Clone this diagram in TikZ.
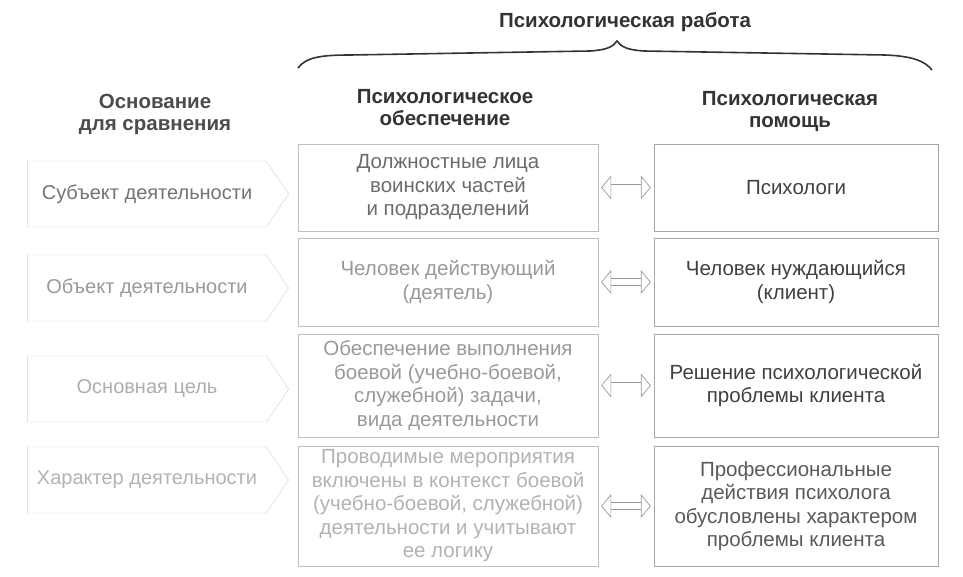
\documentclass[tikz,border=0pt]{standalone}
\usepackage{fontspec}
\setmainfont{Liberation Sans}
\usetikzlibrary{shapes.symbols}
\usetikzlibrary{arrows.meta}

\begin{document}
\begin{tikzpicture}[
    x=1pt,y=-1pt,
    base node/.style={text=black!45,font=\fontsize{20.5}{23.5}\selectfont,align=center,inner sep=0pt},
    head node/.style={text=black!80,font=\fontsize{20.5}{22}\selectfont\bfseries,align=center},
    crit node/.style={base node,font=\fontsize{20}{23}\selectfont,draw=black!18,signal,signal to=east,signal pointer angle=112,minimum width=261pt,minimum height=66pt},
    side node/.style={base node,draw=black!25,minimum width=300pt},
    help node/.style={base node,draw=black!35,text=black!75,minimum width=284pt},
    link/.style={draw=black!40,line width=0.7pt,double=white,double distance=6pt,
      {Triangle[open,length=10pt,width=24pt,line width=0.7pt]}-{Triangle[open,length=10pt,width=24pt,line width=0.7pt]},
      shorten >=3pt,shorten <=3pt},
    ]
  \useasboundingbox (0,0) rectangle (963,576);

  \node[head node] (top) at (625,22) {Психологическая работа};
  \node[head node,text=black!70] (hbase) at (155,114) {Основание\\для сравнения};
  \node[head node] (hside) at (445,108) {Психологическое\\обеспечение};
  \node[head node] (hhelp) at (790,111) {Психологическая\\помощь};

  \draw[line width=1.6pt,black!80] (298,68) .. controls (306,57) and (322,55) .. (350,55)
    -- (590,51) .. controls (606,50) and (613,47) .. (617,41)
    .. controls (621,47) and (628,50) .. (644,51)
    -- (885,55) .. controls (912,56) and (925,61) .. (932,70);

  \node[crit node,text=black!55] (c1) at (147,194) {Субъект деятельности};
  \node[crit node,text=black!40] (c2) at (147,288) {Объект деятельности};
  \node[crit node,text=black!32] (c3) at (147,389) {Основная цель};
  \node[crit node,text=black!30] (c4) at (147,480) {Характер деятельности};

  \node[side node,text=black!58,minimum height=87pt] (s1) at (448,187.5) {Должностные лица\\воинских частей\\и подразделений};
  \node[side node,text=black!40,minimum height=88pt] (s2) at (448,282) {Человек действующий\\(деятель)};
  \node[side node,text=black!40,minimum height=103pt] (s3) at (448,385.5) {Обеспечение выполнения\\боевой (учебно-боевой,\\служебной) задачи,\\вида деятельности};
  \node[side node,text=black!30,minimum height=120pt] (s4) at (448,506) {Проводимые мероприятия\\включены в контекст боевой\\(учебно-боевой, служебной)\\деятельности и учитывают\\ее логику};

  \node[help node,minimum height=87pt] (h1) at (796,187.5) {Психологи};
  \node[help node,minimum height=88pt] (h2) at (796,282) {Человек нуждающийся\\(клиент)};
  \node[help node,minimum height=103pt] (h3) at (796,385.5) {Решение психологической\\проблемы клиента};
  \node[help node,text=black!65,minimum height=120pt] (h4) at (796,506) {Профессиональные\\действия психолога\\обусловлены характером\\проблемы клиента};

  \draw[link] (s1) -- (h1);
  \draw[link] (s2) -- (h2);
  \draw[link] (s3) -- (h3);
  \draw[link] (s4) -- (h4);
\end{tikzpicture}
\end{document}
